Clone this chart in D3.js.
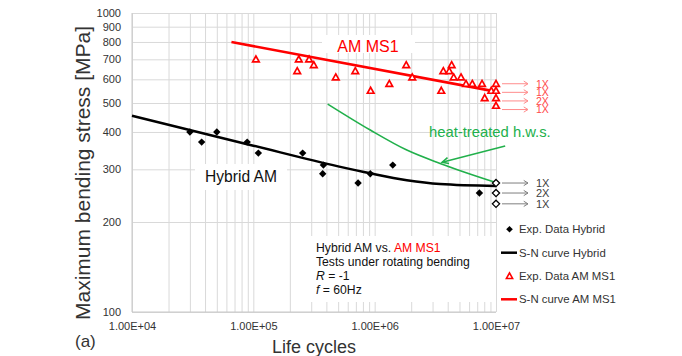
<!DOCTYPE html>
<html>
<head>
<meta charset="utf-8">
<script src="https://cdn.jsdelivr.net/npm/d3@7"></script>
<style>
  html, body { margin: 0; padding: 0; background: #ffffff; }
  svg { display: block; font-family: "Liberation Sans", Arial, sans-serif; }
</style>
</head>
<body>
<svg id="chart" width="682" height="356"></svg>
<script>
// ---------------- data ----------------
const xTickValues = [1e4, 1e5, 1e6, 1e7];
const xTickLabels = ["1.00E+04", "1.00E+05", "1.00E+06", "1.00E+07"];
const yTickValues = [100, 200, 300, 400, 500, 600, 700, 800, 900, 1000];
const yTickLabels = ["100", "200", "300", "400", "500", "600", "700", "800", "900", "1000"];

// Experimental data, hybrid (filled diamonds)
const hybridN = [3.0e4, 3.75e4, 5.0e4, 8.9e4, 1.1e5, 2.55e5, 3.78e5, 3.73e5, 7.3e5, 9.2e5, 1.41e6, 7.3e6];
const hybridS = [400, 370, 400, 370, 340, 340, 310, 290, 270, 290, 310, 250];
// Hybrid run-outs (open diamonds)
const hybridRunoutN = [1e7, 1e7, 1e7];
const hybridRunoutS = [270, 250, 230];
const hybridRunoutLabels = ["1X", "2X", "1X"];

// Experimental data, AM MS1 (open triangles)
const amN = [1.05e5, 2.37e5, 2.30e5, 2.88e5, 3.15e5, 4.78e5, 6.92e5, 9.27e5, 1.32e6, 1.82e6, 2.04e6,
             3.54e6, 3.68e6, 4.12e6, 4.31e6, 4.48e6, 5.15e6, 5.66e6, 6.38e6, 7.67e6, 8.07e6, 9.15e6];
const amS = [700, 700, 640, 700, 670, 610, 640, 550, 580, 670, 610,
             550, 640, 640, 670, 610, 610, 580, 580, 580, 520, 550];
const amRunoutN = [1e7, 1e7, 1e7, 1e7];
const amRunoutS = [580, 550, 520, 490];
const amRunoutLabels = ["1X", "1X", "2X", "1X"];

// S-N curves
const hybridCurveN = [1e4, 1e5, 5e5, 9.2e5, 1.84e6, 3.46e6, 1e7];
const hybridCurveS = [453, 360, 307, 291, 276, 268, 264];
const amCurveN = [6.6e4, 9.5e6];
const amCurveS = [800, 548];
// heat-treated h.w.s. curve
const htCurveN = [4.1e5, 9.2e5, 1.84e6, 3.46e6, 1e7];
const htCurveS = [496, 406, 348, 314, 271];
// pointer arrow for the heat-treated label (data units: [N, S])
const htArrowFrom = [1.19e7, 359];
const htArrowTo = [3.6e6, 317];

const legendLabels = ["Exp. Data Hybrid", "S-N curve Hybrid", "Exp. Data AM MS1", "S-N curve AM MS1"];

// ---------------- layout ----------------
const svg = d3.select("#chart");
const L = 132, R = 496, T = 13, B = 312;
const x = d3.scaleLog().domain([1e4, 1e7]).range([L, R]);
const y = d3.scaleLog().domain([100, 1000]).range([B, T]);

const RED = "#ff0000", GREEN = "#21b04b", GRID = "#d9d9d9", TXT = "#333333";

// plot background
svg.append("rect").attr("x", L).attr("y", T).attr("width", R - L).attr("height", B - T).attr("fill", "#fff");

// grid lines
const xGrid = svg.append("g").attr("transform", `translate(0,${B})`)
  .call(d3.axisBottom(x).tickValues(x.ticks()).tickSize(-(B - T)).tickFormat(""));
xGrid.select(".domain").remove();
xGrid.selectAll("line").attr("stroke", GRID).attr("stroke-width", 1);

const yGrid = svg.append("g").attr("transform", `translate(${L},0)`)
  .call(d3.axisLeft(y).tickValues(yTickValues).tickSize(-(R - L)).tickFormat(""));
yGrid.select(".domain").remove();
yGrid.selectAll("line").attr("stroke", GRID).attr("stroke-width", 1);

// axis lines
svg.append("line").attr("x1", L).attr("x2", L).attr("y1", T).attr("y2", B).attr("stroke", "#c8c8c8");
svg.append("line").attr("x1", L).attr("x2", R).attr("y1", B).attr("y2", B).attr("stroke", "#c8c8c8");

// axes labels
const xAxis = svg.append("g").attr("transform", `translate(0,${B})`)
  .call(d3.axisBottom(x).tickValues(xTickValues).tickSize(0).tickPadding(10)
        .tickFormat((d, i) => xTickLabels[i]));
xAxis.select(".domain").remove();
xAxis.selectAll("text").attr("fill", TXT).style("font-size", "11px").style("font-family", "Liberation Sans, Arial, sans-serif");

const yAxis = svg.append("g").attr("transform", `translate(${L},0)`)
  .call(d3.axisLeft(y).tickValues(yTickValues).tickSize(0).tickPadding(11)
        .tickFormat((d, i) => yTickLabels[i]));
yAxis.select(".domain").remove();
yAxis.selectAll("text").attr("fill", TXT).style("font-size", "11px").style("font-family", "Liberation Sans, Arial, sans-serif");

// axis titles
svg.append("text").attr("transform", "translate(90,173) rotate(-90)")
  .attr("text-anchor", "middle").attr("fill", TXT).style("font-size", "21px")
  .text("Maximum bending stress [MPa]");
svg.append("text").attr("x", 314).attr("y", 353).attr("text-anchor", "middle")
  .attr("fill", TXT).style("font-size", "18px").text("Life cycles");
svg.append("text").attr("x", 75).attr("y", 347).attr("fill", TXT).style("font-size", "17px").text("(a)");

// label boxes (white, covering grid)
svg.append("rect").attr("x", 322).attr("y", 35).attr("width", 93).attr("height", 18).attr("fill", "#fff");
svg.append("text").attr("x", 368).attr("y", 51.5).attr("text-anchor", "middle").attr("fill", RED)
  .style("font-size", "16px").text("AM MS1");

svg.append("rect").attr("x", 195).attr("y", 164).attr("width", 92).attr("height", 26).attr("fill", "#fff");
svg.append("text").attr("x", 241).attr("y", 181.5).attr("text-anchor", "middle").attr("fill", "#111")
  .style("font-size", "15.6px").text("Hybrid AM");

svg.append("rect").attr("x", 302).attr("y", 236).attr("width", 192).attr("height", 66).attr("fill", "#fff");
const note = svg.append("text").attr("fill", "#111").style("font-size", "12.2px");
const l1 = note.append("tspan").attr("x", 316).attr("y", 251.8);
l1.append("tspan").text("Hybrid AM vs. ");
l1.append("tspan").attr("fill", RED).text("AM MS1");
note.append("tspan").attr("x", 316).attr("y", 265.8).text("Tests under rotating bending");
const l3 = note.append("tspan").attr("x", 316).attr("y", 279.8);
l3.append("tspan").style("font-style", "italic").text("R");
l3.append("tspan").text(" = -1");
const l4 = note.append("tspan").attr("x", 316).attr("y", 293.8);
l4.append("tspan").style("font-style", "italic").text("f");
l4.append("tspan").text(" = 60Hz");

// ---------------- curves ----------------
const line = d3.line().x(d => x(d[0])).y(d => y(d[1])).curve(d3.curveMonotoneX);

svg.append("path").datum(d3.zip(htCurveN, htCurveS)).attr("d", line)
  .attr("fill", "none").attr("stroke", GREEN).attr("stroke-width", 1.6);
svg.append("path").datum(d3.zip(hybridCurveN, hybridCurveS)).attr("d", line)
  .attr("fill", "none").attr("stroke", "#000").attr("stroke-width", 2.5);
svg.append("path").datum(d3.zip(amCurveN, amCurveS)).attr("d", d3.line().x(d => x(d[0])).y(d => y(d[1])))
  .attr("fill", "none").attr("stroke", RED).attr("stroke-width", 2.6);

// green pointer arrow
function arrowHead(g, x1, y1, x2, y2, color, len, spread, width) {
  const a = Math.atan2(y2 - y1, x2 - x1);
  const p1 = [x2 - len * Math.cos(a - spread), y2 - len * Math.sin(a - spread)];
  const p2 = [x2 - len * Math.cos(a + spread), y2 - len * Math.sin(a + spread)];
  g.append("path").attr("d", `M${p1[0]},${p1[1]}L${x2},${y2}L${p2[0]},${p2[1]}`)
    .attr("fill", "none").attr("stroke", color).attr("stroke-width", width);
}
{
  const x1 = x(htArrowFrom[0]), y1 = y(htArrowFrom[1]), x2 = x(htArrowTo[0]), y2 = y(htArrowTo[1]);
  svg.append("line").attr("x1", x1).attr("y1", y1).attr("x2", x2).attr("y2", y2)
    .attr("stroke", GREEN).attr("stroke-width", 1.6);
  arrowHead(svg, x1, y1, x2, y2, GREEN, 7, 0.45, 1.6);
}
svg.append("text").attr("x", 429).attr("y", 137).attr("fill", GREEN).style("font-size", "14.8px")
  .text("heat-treated h.w.s.");

// ---------------- markers ----------------
const diamond = r => `M0,${-r}L${r},0L0,${r}L${-r},0Z`;
const triangle = r => `M0,${-r}L${r},${r * 0.8}L${-r},${r * 0.8}Z`;

svg.append("g").selectAll("path").data(d3.zip(hybridN, hybridS)).join("path")
  .attr("transform", d => `translate(${x(d[0])},${y(d[1])})`)
  .attr("d", diamond(3.7)).attr("fill", "#000");

svg.append("g").selectAll("path").data(d3.zip(hybridRunoutN, hybridRunoutS)).join("path")
  .attr("transform", d => `translate(${x(d[0])},${y(d[1])})`)
  .attr("d", diamond(3.6)).attr("fill", "#fff").attr("stroke", "#000").attr("stroke-width", 1.3);

svg.append("g").selectAll("path").data(d3.zip(amN.concat(amRunoutN), amS.concat(amRunoutS))).join("path")
  .attr("transform", d => `translate(${x(d[0])},${y(d[1])})`)
  .attr("d", triangle(3.3)).attr("fill", "#fff").attr("stroke", RED).attr("stroke-width", 1.7);

// run-out arrows + labels (spacing: minimum vertical gap between successive arrows)
function runouts(N, S, labels, lineColor, textColor, spacing, fontSize) {
  const g = svg.append("g");
  let prev = -Infinity;
  N.forEach((n, i) => {
    const px = x(n);
    const py = Math.max(y(S[i]), prev + spacing);
    prev = py;
    g.append("line").attr("x1", px + 6).attr("x2", px + 32).attr("y1", py).attr("y2", py)
      .attr("stroke", lineColor).attr("stroke-width", 1);
    arrowHead(g, px + 6, py, px + 32, py, lineColor, 5, 0.55, 1);
    g.append("text").attr("x", px + 40).attr("y", py + fontSize * 0.36).attr("fill", textColor)
      .style("font-size", fontSize + "px").text(labels[i]);
  });
}
runouts(amRunoutN, amRunoutS, amRunoutLabels, "#ff8c8c", "#ff4a4a", 8.6, 10.5);
runouts(hybridRunoutN, hybridRunoutS, hybridRunoutLabels, "#7f7f7f", "#404040", 10, 11);

// ---------------- legend ----------------
const leg = svg.append("g");
const rows = [229.3, 252.7, 276, 299.3];
leg.append("path").attr("transform", `translate(509.5,${rows[0]})`).attr("d", diamond(3.3)).attr("fill", "#000");
leg.append("line").attr("x1", 501).attr("x2", 517).attr("y1", rows[1]).attr("y2", rows[1])
  .attr("stroke", "#000").attr("stroke-width", 2.5);
leg.append("path").attr("transform", `translate(509.5,${rows[2]})`).attr("d", triangle(3.1))
  .attr("fill", "#fff").attr("stroke", RED).attr("stroke-width", 1.6);
leg.append("line").attr("x1", 501).attr("x2", 517).attr("y1", rows[3]).attr("y2", rows[3])
  .attr("stroke", RED).attr("stroke-width", 2.5);
legendLabels.forEach((t, i) => {
  leg.append("text").attr("x", 519).attr("y", rows[i] + 4).attr("fill", TXT)
    .style("font-size", "11.4px").text(t);
});
</script>
</body>
</html>
